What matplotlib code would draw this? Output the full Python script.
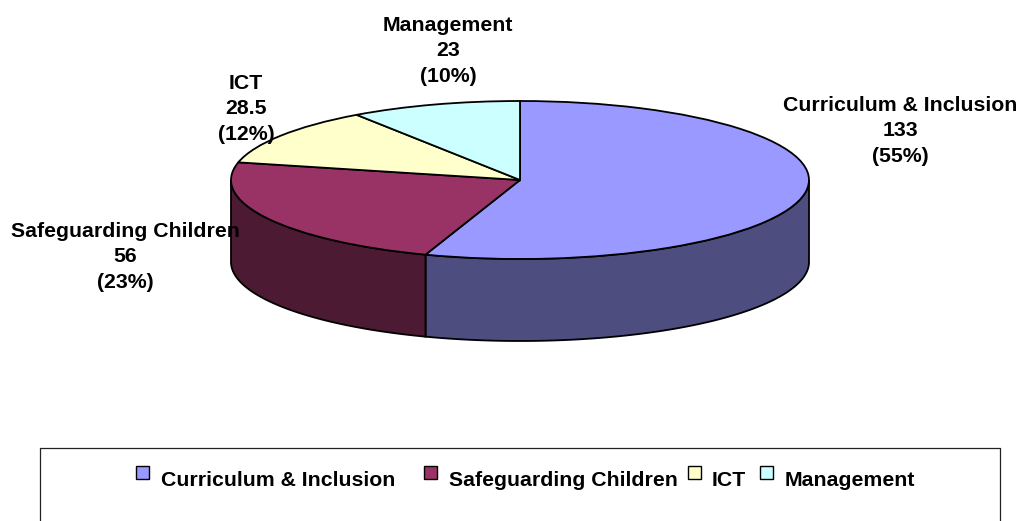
import numpy as np
import matplotlib
matplotlib.use("Agg")
import matplotlib.pyplot as plt
from matplotlib.patches import Rectangle

categories = ["Curriculum & Inclusion", "Safeguarding Children", "ICT", "Management"]
values = [133, 56, 28.5, 23]
value_labels = ["133", "56", "28.5", "23"]
percents = ["55%", "23%", "12%", "10%"]
top_colors = ["#9999FF", "#993366", "#FFFFCC", "#CCFFFF"]
side_colors = ["#4D4D80", "#4D1A33", "#808066", "#668080"]

W, H = 1024, 521
plt.rcParams["font.family"] = ["Liberation Sans", "DejaVu Sans"]
fig = plt.figure(figsize=(W / 100, H / 100), dpi=100, facecolor="white")

page = fig.add_axes([0, 0, 1, 1], zorder=3)
page.set_xlim(0, W)
page.set_ylim(H, 0)
page.axis("off")
page.patch.set_alpha(0)

CX, CY, RX, RY, DEPTH = 520, 180, 289, 79, 82
x0, x1 = CX - RX, CX + RX
y0, y1 = CY - RY, CY + RY + DEPTH
ax = fig.add_axes([x0 / W, 1 - y1 / H, (x1 - x0) / W, (y1 - y0) / H], zorder=1)
wedges, _ = ax.pie(values, colors=top_colors, startangle=90, counterclock=False,
                   radius=1, center=(0, 0),
                   wedgeprops=dict(edgecolor="black", linewidth=1.3, zorder=3,
                                   clip_on=False))
ax.set_aspect("auto")
ax.set_xlim(-1, 1)
d = DEPTH / RY
ax.set_ylim(1 - 2 - d, 1)
ax.axis("off")

edges = 90 - np.cumsum([0] + values) / sum(values) * 360
for a0, a1, c in zip(edges[:-1], edges[1:], side_colors):
    lo = max(a1, -180)
    hi = min(a0, 0)
    if hi <= lo:
        continue
    t = np.radians(np.linspace(lo, hi, 120))
    xs = np.r_[np.cos(t), np.cos(t)[::-1]]
    ys = np.r_[np.sin(t), np.sin(t)[::-1] - d]
    ax.fill(xs, ys, facecolor=c, edgecolor="black", linewidth=1.3, zorder=2,
            clip_on=False)

label_pos = [(900, 131), (125, 257), (246, 109), (448, 51)]
for (lx, ly), cat, v, p in zip(label_pos, categories, value_labels, percents):
    page.text(lx, ly, f"{cat}\n{v}\n({p})", ha="center", va="center",
              fontsize=15.3, fontweight="bold", color="black", linespacing=1.45)

page.plot([40, 40, 1000, 1000], [H + 2, 448, 448, H + 2], color="#222222", lw=0.9,
          clip_on=True)

swatch_x = [136, 424, 688, 760]
text_x = [161, 449, 712, 785]
for sx, tx, cat, c in zip(swatch_x, text_x, categories, top_colors):
    page.add_patch(Rectangle((sx, 466), 12.5, 12.5, facecolor=c, edgecolor="black", lw=1.0))
    page.text(tx, 481, cat, ha="left", va="center", fontsize=15.3,
              fontweight="bold", color="black")

fig.savefig("out.png", dpi=100, facecolor="white")
